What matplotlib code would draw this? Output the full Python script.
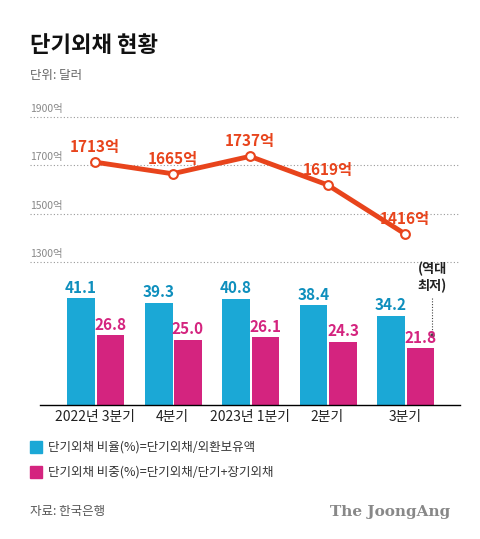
import matplotlib.pyplot as plt
import matplotlib.patches as patches

plt.rcParams['font.family'] = ['Noto Sans CJK KR', 'DejaVu Sans']

quarters = ['2022년 3분기', '4분기', '2023년 1분기', '2분기', '3분기']
debt = [1713, 1665, 1737, 1619, 1416]
ratio_reserve = [41.1, 39.3, 40.8, 38.4, 34.2]
ratio_total = [26.8, 25.0, 26.1, 24.3, 21.8]
grid_vals = [1300, 1500, 1700, 1900]

ORANGE = '#e8441c'
BLUE = '#1ba8d6'
PINK = '#d4247f'

fig = plt.figure(figsize=(4.8, 5.39), dpi=100)
xlim = (-95 / 77.5, (480 - 95) / 77.5)
x = list(range(len(quarters)))

# top: line chart
ax1 = fig.add_axes([0, 0.514, 1, 0.269])
ax1.set_xlim(*xlim)
ax1.set_ylim(1300, 1900)
ax1.axis('off')
for g in grid_vals:
    ax1.plot([-0.84, 4.71], [g, g], color='#999999', lw=0.8, ls=(0, (1, 2)), clip_on=False)
    ax1.text(-0.84, g + 12, f'{g}억', fontsize=7.5, color='#888888', va='bottom', ha='left')
ax1.plot(x, debt, color=ORANGE, lw=3.5, zorder=2)
ax1.scatter(x, debt, s=40, facecolor='white', edgecolor=ORANGE, linewidth=1.5, zorder=3)
for xi, v in zip(x, debt):
    ax1.text(xi, v + 30, f'{v}억', ha='center', va='bottom', fontsize=11,
             fontweight='bold', color=ORANGE, zorder=4)

# bottom: bars
ax2 = fig.add_axes([0, 0.2486, 1, 0.2654])
ax2.set_xlim(*xlim)
ax2.set_ylim(0, 55)
ax2.axis('off')
w = 0.36
ax2.bar([xi - 0.18 for xi in x], ratio_reserve, width=w, color=BLUE)
ax2.bar([xi + 0.2 for xi in x], ratio_total, width=w, color=PINK)
for xi, a, b in zip(x, ratio_reserve, ratio_total):
    ax2.text(xi - 0.18, a + 1, f'{a}', ha='center', va='bottom', fontsize=11,
             fontweight='bold', color='#0e8fbd')
    ax2.text(xi + 0.2, b + 1, f'{b}', ha='center', va='bottom', fontsize=11,
             fontweight='bold', color=PINK)
ax2.plot([-0.71, 4.71], [0, 0], color='black', lw=1, clip_on=False)
for xi, q in zip(x, quarters):
    ax2.text(xi, -2, q, ha='center', va='top', fontsize=10, color='#222222')

# annotation
ax2.text(4.35, 49, '(역대\n최저)', ha='center', va='center', fontsize=9.5,
         fontweight='bold', color='#222222', linespacing=1.2)
ax2.plot([4.35, 4.35], [41, 27], color='#444444', lw=0.8, ls=(0, (1, 1.5)))
ax2.scatter([4.35], [27], s=5, color='#444444')

# texts
fig.text(30 / 480, 1 - 45 / 539, '단기외채 현황', fontsize=16, fontweight='bold',
         va='center', ha='left', color='#111111')
fig.text(30 / 480, 1 - 76 / 539, '단위: 달러', fontsize=9, va='center', color='#666666')

for i, (c, t) in enumerate([(BLUE, '단기외채 비율(%)=단기외채/외환보유액'),
                            (PINK, '단기외채 비중(%)=단기외채/단기+장기외채')]):
    yc = 1 - (447 + 25 * i) / 539
    fig.patches.append(patches.Rectangle((30 / 480, yc - 6 / 539), 12 / 480, 12 / 539,
                                         color=c, transform=fig.transFigure))
    fig.text(48 / 480, yc, t, fontsize=9, va='center', color='#333333')

fig.text(30 / 480, 1 - 512 / 539, '자료: 한국은행', fontsize=9, va='center', color='#555555')
fig.text(450 / 480, 1 - 512 / 539, 'The JoongAng', fontsize=11, fontweight='bold',
         family='DejaVu Serif', va='center', ha='right', color='#888888')

fig.savefig('out.png', dpi=100, facecolor='white')
